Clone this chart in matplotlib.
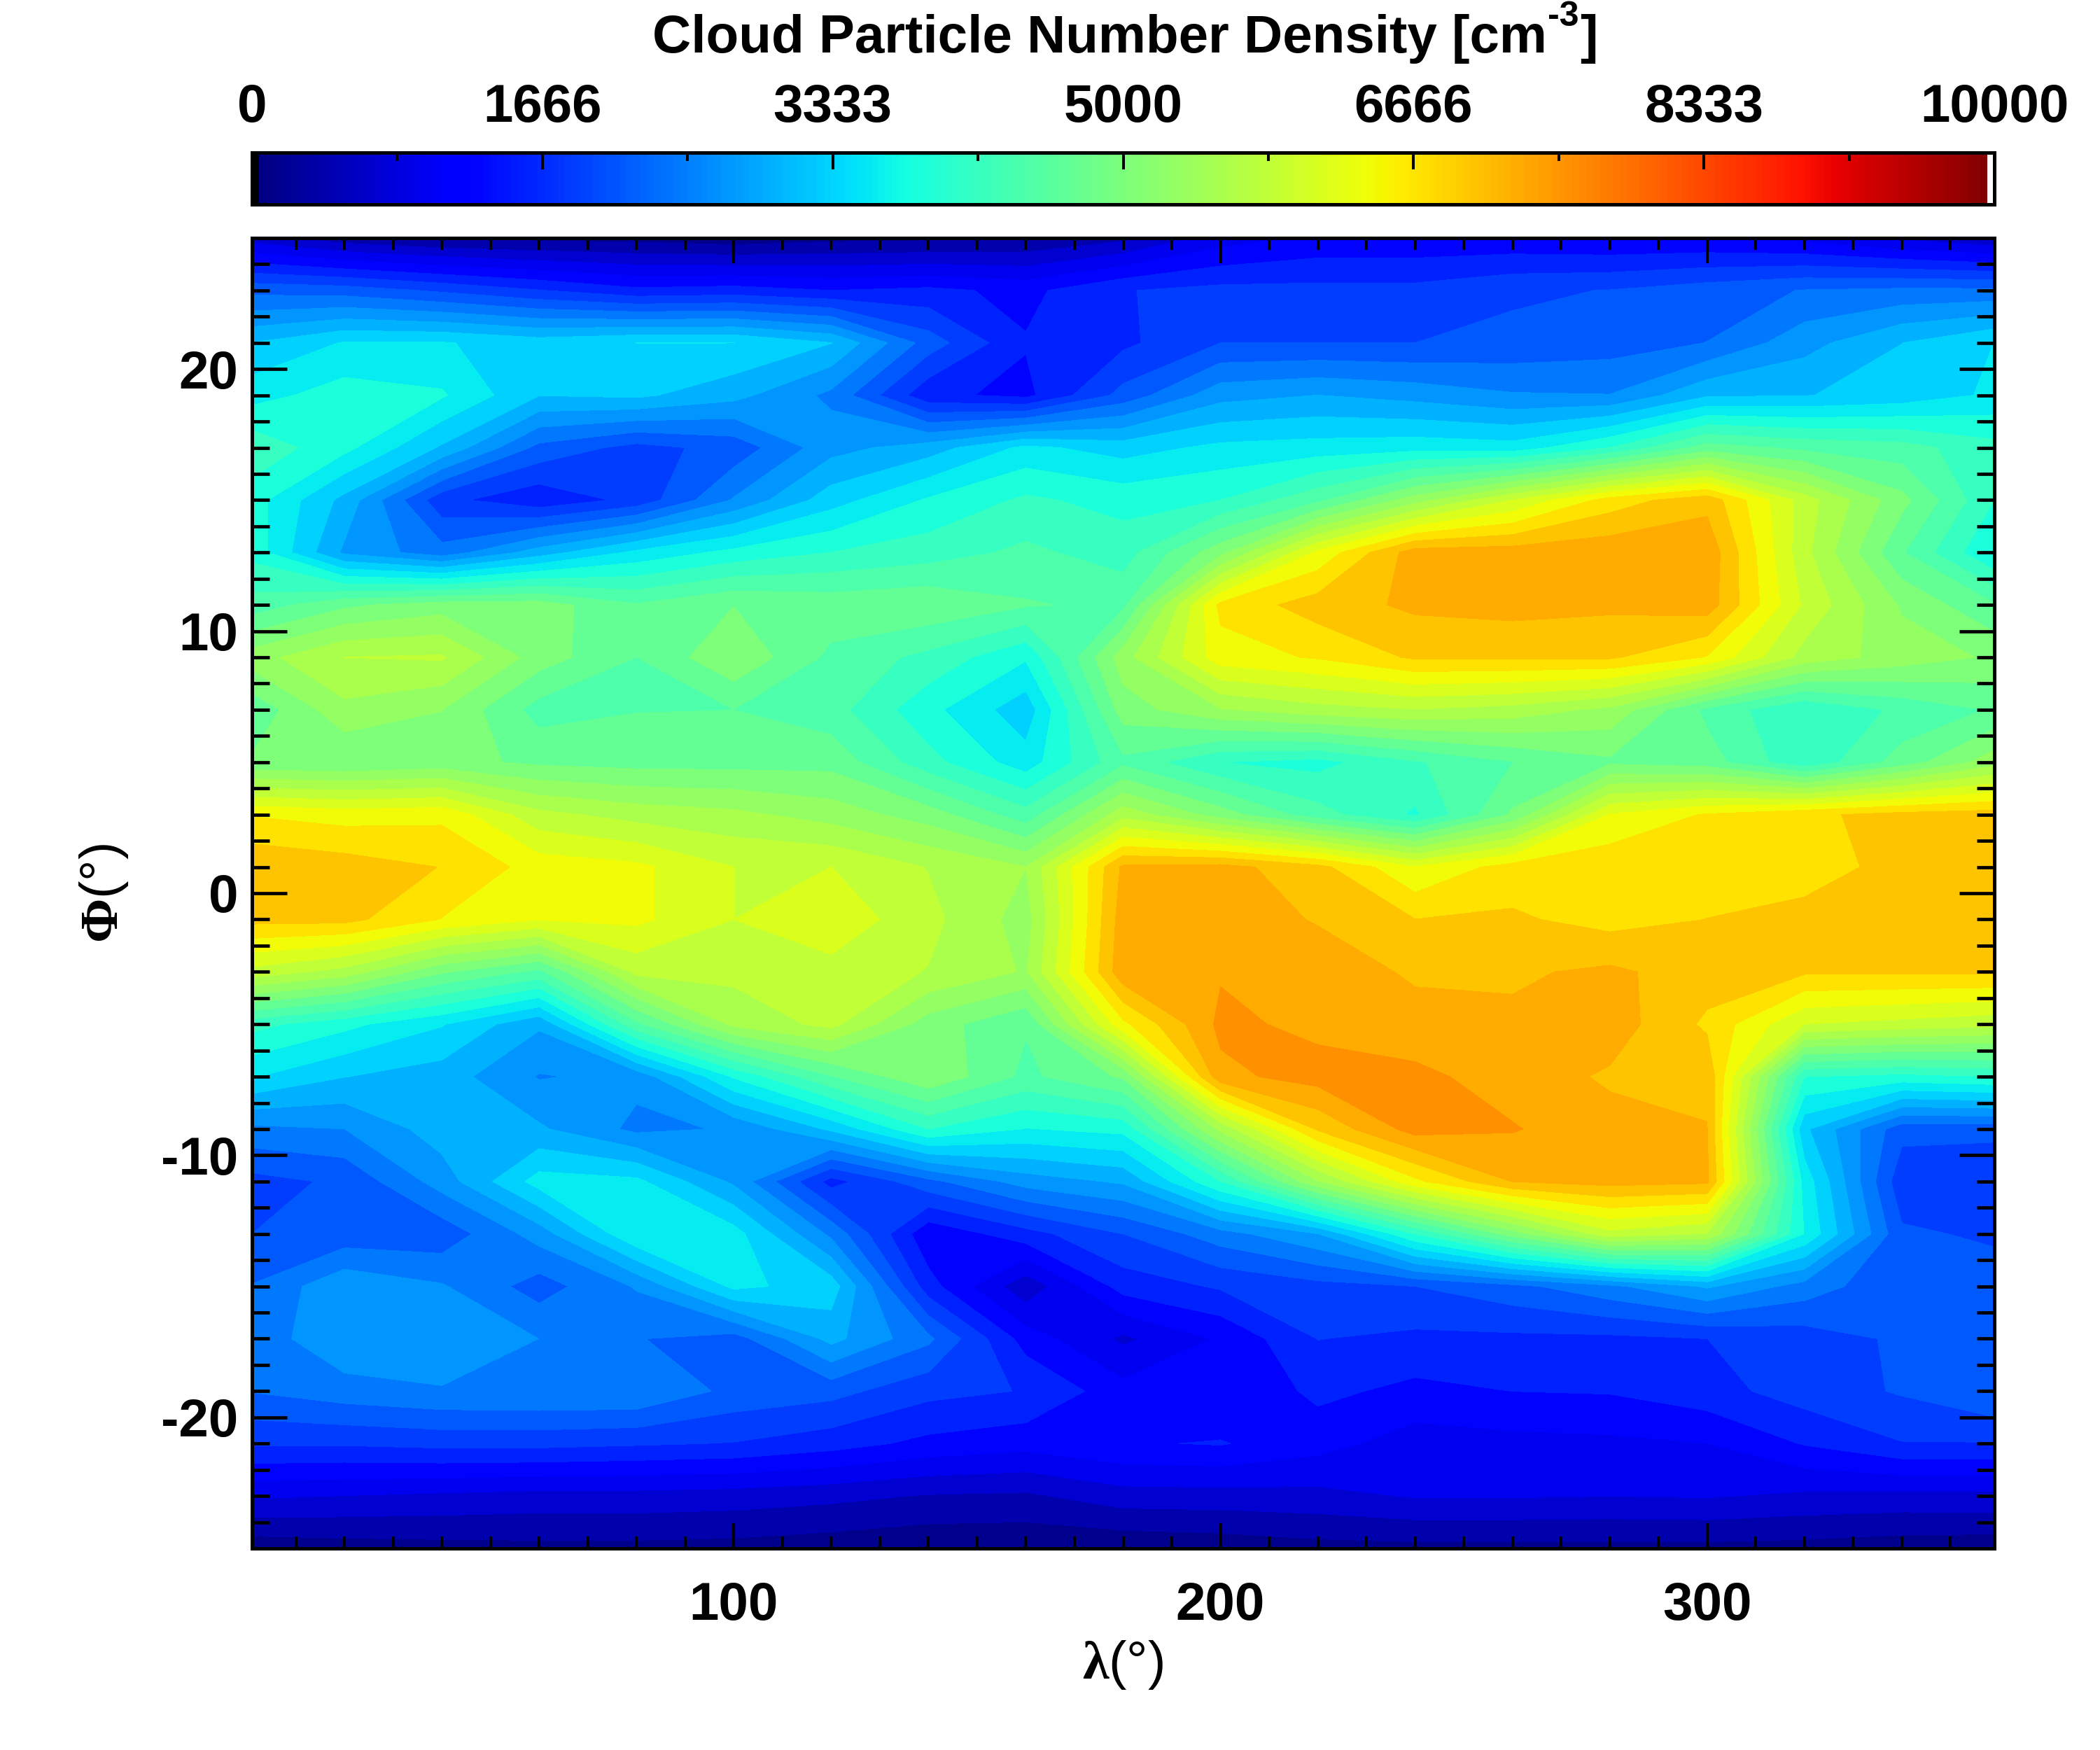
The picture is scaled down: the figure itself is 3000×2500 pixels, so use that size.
import numpy as np
import matplotlib
matplotlib.use('Agg')
import matplotlib.pyplot as plt
from matplotlib.colors import ListedColormap
from matplotlib.ticker import MultipleLocator

plt.rcParams['font.family'] = 'Liberation Sans'
plt.rcParams['font.weight'] = 'bold'
plt.rcParams['axes.unicode_minus'] = False
plt.rcParams['mathtext.fontset'] = 'custom'
plt.rcParams['mathtext.rm'] = 'Liberation Serif'
plt.rcParams['mathtext.default'] = 'regular'

# values
lon = [1, 20, 40, 60, 80, 100, 120, 140, 160, 180, 200, 220, 240, 260, 280, 300, 320, 340, 359]
lat = [25, 23, 21, 19, 17, 15, 13, 11, 9, 7, 5, 3, 1, -1, -3, -5, -7, -9, -11, -13, -15, -17, -19, -21, -23, -25]

r25 = [720, 400, 250, 200, 180, 100, 200, 220, 280, 500, 1000, 1200, 1200, 1200, 1150, 1150, 1050, 800, 600]
r23 = [2200, 2150, 1950, 1730, 1500, 1550, 1430, 1500, 1350, 1700, 1800, 1800, 1800, 1950, 2010, 2150, 2300, 2350, 2350]
r21 = [3150, 3450, 3450, 3300, 3430, 3430, 3150, 2150, 1450, 1650, 2000, 2000, 2000, 2080, 2150, 2290, 2750, 3140, 3430]
r19 = [3600, 3850, 3750, 3150, 3200, 2950, 2500, 1500, 1350, 2100, 2750, 2860, 2750, 2600, 2580, 3100, 3130, 3250, 3480]
r17 = [4200, 3800, 3100, 2200, 1900, 2100, 2750, 3000, 3500, 3300, 3500, 3550, 3600, 3550, 4000, 4700, 4500, 4400, 4100]
r15 = [3850, 3050, 1800, 1500, 1800, 2600, 3300, 3750, 4050, 3900, 4000, 4500, 5300, 6000, 6700, 7050, 5850, 4950, 4000]
r13 = [3900, 2800, 2400, 3000, 3500, 3800, 4000, 4150, 4350, 4150, 5050, 6350, 7300, 7300, 7350, 7350, 5800, 4600, 3700]
r11 = [4400, 4800, 5000, 5000, 4600, 4850, 4750, 4800, 4600, 4500, 6650, 7000, 7200, 7250, 7200, 7300, 5950, 5100, 4600]
r09 = [5300, 5720, 5750, 5000, 4570, 5100, 4500, 4200, 3750, 5300, 6450, 6600, 6900, 6900, 6900, 6550, 5600, 5300, 5100]
r07 = [4650, 5350, 5150, 4450, 4560, 4570, 4400, 3800, 3250, 5000, 5400, 5600, 5700, 5600, 5350, 4500, 4000, 4350, 4600]
r05 = [4900, 4860, 4950, 4800, 4750, 4750, 4760, 4100, 3550, 4500, 4000, 3900, 4250, 4560, 4800, 4700, 4050, 4700, 5300]
r03 = [6550, 6450, 6500, 5800, 5600, 5500, 5300, 5000, 4400, 5600, 5000, 4400, 3950, 4900, 6300, 6600, 6800, 6950, 7000]
r01 = [7100, 7000, 6850, 6450, 6350, 6000, 6000, 5700, 5430, 7200, 7250, 6950, 6300, 6700, 6780, 6750, 6800, 6900, 7100]
s01 = [6950, 6950, 6560, 6300, 6350, 6000, 6200, 5800, 5300, 7300, 7300, 7120, 6860, 6900, 6750, 6860, 6900, 6950, 7000]
s03 = [5900, 5600, 4900, 4500, 5800, 5800, 5900, 5700, 5400, 7350, 7400, 7300, 7100, 7100, 7200, 7000, 6900, 6900, 6900]
s05 = [4100, 3800, 3450, 2900, 4500, 5500, 5800, 5000, 4600, 6500, 7500, 7350, 7250, 7200, 7300, 6800, 6000, 5900, 5800]
s07 = [3450, 3150, 3000, 2550, 2650, 3750, 4550, 5100, 4500, 4900, 7350, 7550, 7500, 7300, 7100, 7100, 4000, 3900, 4000]
s09 = [2500, 2570, 3000, 2900, 2500, 2600, 3200, 4000, 3700, 3800, 5500, 6900, 7550, 7450, 7250, 7150, 3200, 2100, 2100]
s11 = [1900, 2050, 2700, 3550, 3500, 2800, 1600, 2200, 2700, 2900, 4000, 5400, 6500, 7150, 7250, 7200, 3600, 1800, 1700]
s13 = [2000, 2100, 2100, 2700, 3700, 3550, 2500, 1200, 1600, 2000, 2450, 2850, 4000, 5000, 5900, 5700, 3700, 2050, 1950]
s15 = [2300, 2800, 2600, 2150, 2600, 3500, 3300, 1550, 650, 1550, 1750, 1900, 2000, 2200, 2500, 2900, 2450, 2050, 2150]
s17 = [2400, 2800, 2750, 2570, 2300, 2150, 2950, 2350, 1300, 800, 1180, 1720, 1650, 1650, 1650, 1714, 1850, 2050, 2250]
s19 = [2300, 2450, 2550, 2570, 2570, 2200, 2100, 1800, 1700, 1250, 1150, 1500, 1350, 1430, 1450, 1600, 1850, 2030, 2290]
s21 = [1750, 1750, 1800, 1800, 1750, 1700, 1550, 1350, 1250, 1400, 1450, 1250, 1000, 1050, 1080, 1140, 1450, 1700, 1700]
s23 = [900, 850, 800, 750, 750, 720, 650, 550, 520, 730, 740, 770, 880, 880, 860, 880, 800, 770, 780]
s25 = [100, 150, 180, 200, 200, 180, 120, 50, 50, 50, 100, 180, 200, 200, 200, 200, 180, 120, 100]

density = np.array([r25, r23, r21, r19, r17, r15, r13, r11, r09, r07, r05, r03, r01,
                    s01, s03, s05, s07, s09, s11, s13, s15, s17, s19, s21, s23, s25])

cbar_ticks = [0, 1666.67, 3333.33, 5000, 6666.67, 8333.33, 10000]
cbar_labels = ['0', '1666', '3333', '5000', '6666', '8333', '10000']

W, H = 3000, 2500
FS = 55

# jet with black and white ends, like the IDL table
colors = plt.get_cmap('jet')(np.linspace(0, 1, 256))
colors[0] = [0, 0, 0, 1]
colors[-1] = [1, 1, 1, 1]
table = ListedColormap(colors)

fig = plt.figure(figsize=(30, 25), dpi=100)
ax = fig.add_axes([360/W, 1 - 2212/H, (2849-360)/W, (2212-340)/H])
cax = fig.add_axes([360/W, 1 - 292/H, (2849-360)/W, (292-218)/H])

levels = np.linspace(0, 10000, 36)
ax.contourf(lon, lat, density, levels=levels, cmap=table, vmin=0, vmax=10000)
ax.set_xlim(1, 359)
ax.set_ylim(-25, 25)
ax.xaxis.set_major_locator(MultipleLocator(100))
ax.xaxis.set_minor_locator(MultipleLocator(10))
ax.yaxis.set_major_locator(MultipleLocator(10))
ax.yaxis.set_minor_locator(MultipleLocator(1))
ax.tick_params(axis='x', which='major', direction='in', top=True, length=26, width=2.9, labelsize=FS, pad=34)
ax.tick_params(axis='x', which='minor', direction='in', top=True, length=12, width=2.9)
ax.tick_params(axis='y', which='major', direction='in', right=True, length=36, width=3.4, labelsize=FS, pad=14)
ax.tick_params(axis='y', which='minor', direction='in', right=True, length=18, width=3.4)
ax.set_xlabel(r'$\mathrm{\lambda}$(°)', fontsize=FS, labelpad=8)
ax.set_ylabel(r'$\mathrm{\Phi}$(°)', fontsize=FS, labelpad=32)

edges = np.linspace(0, 10000, 257)
mids = (edges[:-1] + edges[1:]) / 2
cax.pcolormesh(edges, [0, 1], mids[np.newaxis, :], cmap=table, vmin=0, vmax=10000)
cax.set_xlim(0, 10000)
cax.set_yticks([])
cax.xaxis.tick_top()
cax.set_xticks(cbar_ticks)
cax.set_xticklabels(cbar_labels)
cax.xaxis.set_minor_locator(MultipleLocator(10000/12))
cax.tick_params(axis='x', which='major', direction='in', length=17, width=2.9, labelsize=FS, pad=20)
cax.tick_params(axis='x', which='minor', direction='in', length=8.5, width=2.9)

for a in (ax, cax):
    for sp in a.spines.values():
        sp.set_linewidth(3.6)

# title in three pieces so the superscript stays small with a hyphen
t1 = fig.text(932/W, 1 - 75/H, 'Cloud Particle Number Density [cm', fontsize=FS,
              ha='left', va='baseline')
t2 = ax.annotate('-3', xy=(1, 0), xycoords=t1, xytext=(1, 32), textcoords='offset points',
                 fontsize=36, ha='left', va='bottom', annotation_clip=False)
ax.annotate(']', xy=(1, 0), xycoords=(t2, t1), xytext=(1, 0), textcoords='offset points',
            fontsize=FS, ha='left', va='bottom', annotation_clip=False)

fig.savefig('out.png', dpi=100)
